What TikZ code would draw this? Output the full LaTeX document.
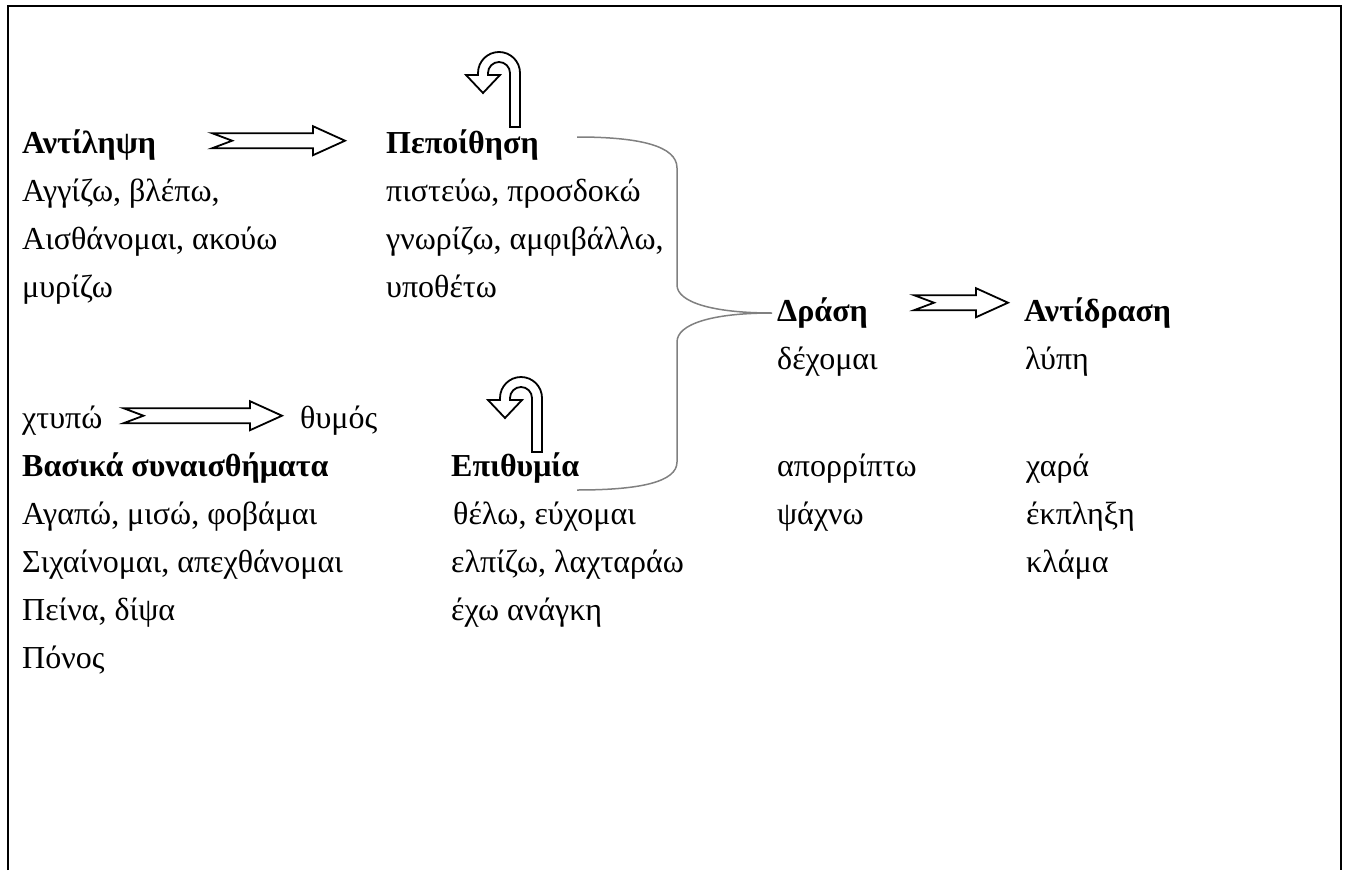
\documentclass[tikz,border=0pt]{standalone}
\usepackage{fontspec}
\setmainfont{Liberation Serif}
\usepackage{tikz}
\usetikzlibrary{positioning,calc}
\tikzset{
  word/.style={anchor=base west, inner sep=0pt, font=\fontsize{32}{38}\selectfont},
  head/.style={word, font=\fontsize{32}{38}\selectfont\bfseries},
  fat/.style={draw=black, fill=white, line width=1.8pt, line join=miter},
  brace/.style={draw=gray, line width=1.5pt},
  frame/.style={draw=black, line width=2.5pt},
  uturn/.pic={
    \filldraw[fat] (21,54) -- (21,0) arc[start angle=0, end angle=180, radius=21pt]
      -- (-21,2) -- (-33,2) -- (-16,20) -- (1,2) -- (-11,2) -- (-11,0)
      arc[start angle=180, end angle=0, radius=11pt] -- (11,54) -- cycle;
  },
}
% block arrow: from node, to node, gap after, gap before, lift
\newcommand{\fatarrow}[5]{%
  \filldraw[fat] let \p1=(#1.mid east), \p2=(#2.mid west) in
    (\x1+#3pt,\y1+#5pt+7.5pt) -- (\x2-#4pt-32pt,\y1+#5pt+7.5pt)
    -- (\x2-#4pt-32pt,\y1+#5pt+14.5pt) -- (\x2-#4pt,\y1+#5pt)
    -- (\x2-#4pt-32pt,\y1+#5pt-14.5pt) -- (\x2-#4pt-32pt,\y1+#5pt-7.5pt)
    -- (\x1+#3pt,\y1+#5pt-7.5pt) -- (\x1+#3pt+20pt,\y1+#5pt) -- cycle;}

\begin{document}
\begin{tikzpicture}[x=1pt, y=-1pt]
\useasboundingbox (0,0) rectangle (1348,870);
\draw[frame] (8,870) -- (8,6) -- (1341,6) -- (1341,870);

% perception
\node[head] (perc)  at (22,153) {Αντίληψη};
\node[word] (perc1) at (22,201) {Αγγίζω, βλέπω,};
\node[word] (perc2) at (22,249) {Αισθάνομαι, ακούω};
\node[word] (perc3) at (22,297) {μυρίζω};

% belief
\node[head] (bel)  at (386,153) {Πεποίθηση};
\node[word] (bel1) at (386,201) {πιστεύω, προσδοκώ};
\node[word] (bel2) at (386,249) {γνωρίζω, αμφιβάλλω,};
\node[word] (bel3) at (386,297) {υποθέτω};

% basic emotions
\node[word] (hit)  at (22,428) {χτυπώ};
\node[word] (rage) at (300,428) {θυμός};
\node[head] (emo)  at (22,476) {Βασικά συναισθήματα};
\node[word] (emo1) at (22,524) {Αγαπώ, μισώ, φοβάμαι};
\node[word] (emo2) at (22,572) {Σιχαίνομαι, απεχθάνομαι};
\node[word] (emo3) at (22,620) {Πείνα, δίψα};
\node[word] (emo4) at (22,668) {Πόνος};

% desire
\node[head] (des)  at (451,476) {Επιθυμία};
\node[word] (des1) at (453,524) {θέλω, εύχομαι};
\node[word] (des2) at (451,572) {ελπίζω, λαχταράω};
\node[word] (des3) at (451,620) {έχω ανάγκη};

% action
\node[head] (act)  at (777,321) {Δράση};
\node[word] (act1) at (777,369) {δέχομαι};
\node[word] (act2) at (777,476) {απορρίπτω};
\node[word] (act3) at (777,524) {ψάχνω};

% reaction
\node[head] (rea)  at (1024,321) {Αντίδραση};
\node[word] (rea1) at (1025,369) {λύπη};
\node[word] (rea2) at (1026,476) {χαρά};
\node[word] (rea3) at (1026,524) {έκπληξη};
\node[word] (rea4) at (1026,572) {κλάμα};

% block arrows
\fatarrow{perc}{bel}{56}{41}{10}
\fatarrow{act}{rea}{46}{16}{16}
\fatarrow{hit}{rage}{21}{18}{10}

% turning arrows
\pic at ($(bel.base west)+(113,-80)$) {uturn};
\pic at ($(des.base west)+(70,-78)$) {uturn};

% brace
\coordinate (bt) at (577,137);
\coordinate (bb) at (577,490);
\draw[brace] (bt) .. controls (640,137) and (677,146) .. (677,168) -- (677,285)
  .. controls (677,302) and (712,313) .. ($(act.base west)+(-5,-8)$)
  .. controls (712,313) and (677,324) .. (677,342) -- (677,462)
  .. controls (677,482) and (640,490) .. (bb);
\end{tikzpicture}
\end{document}
